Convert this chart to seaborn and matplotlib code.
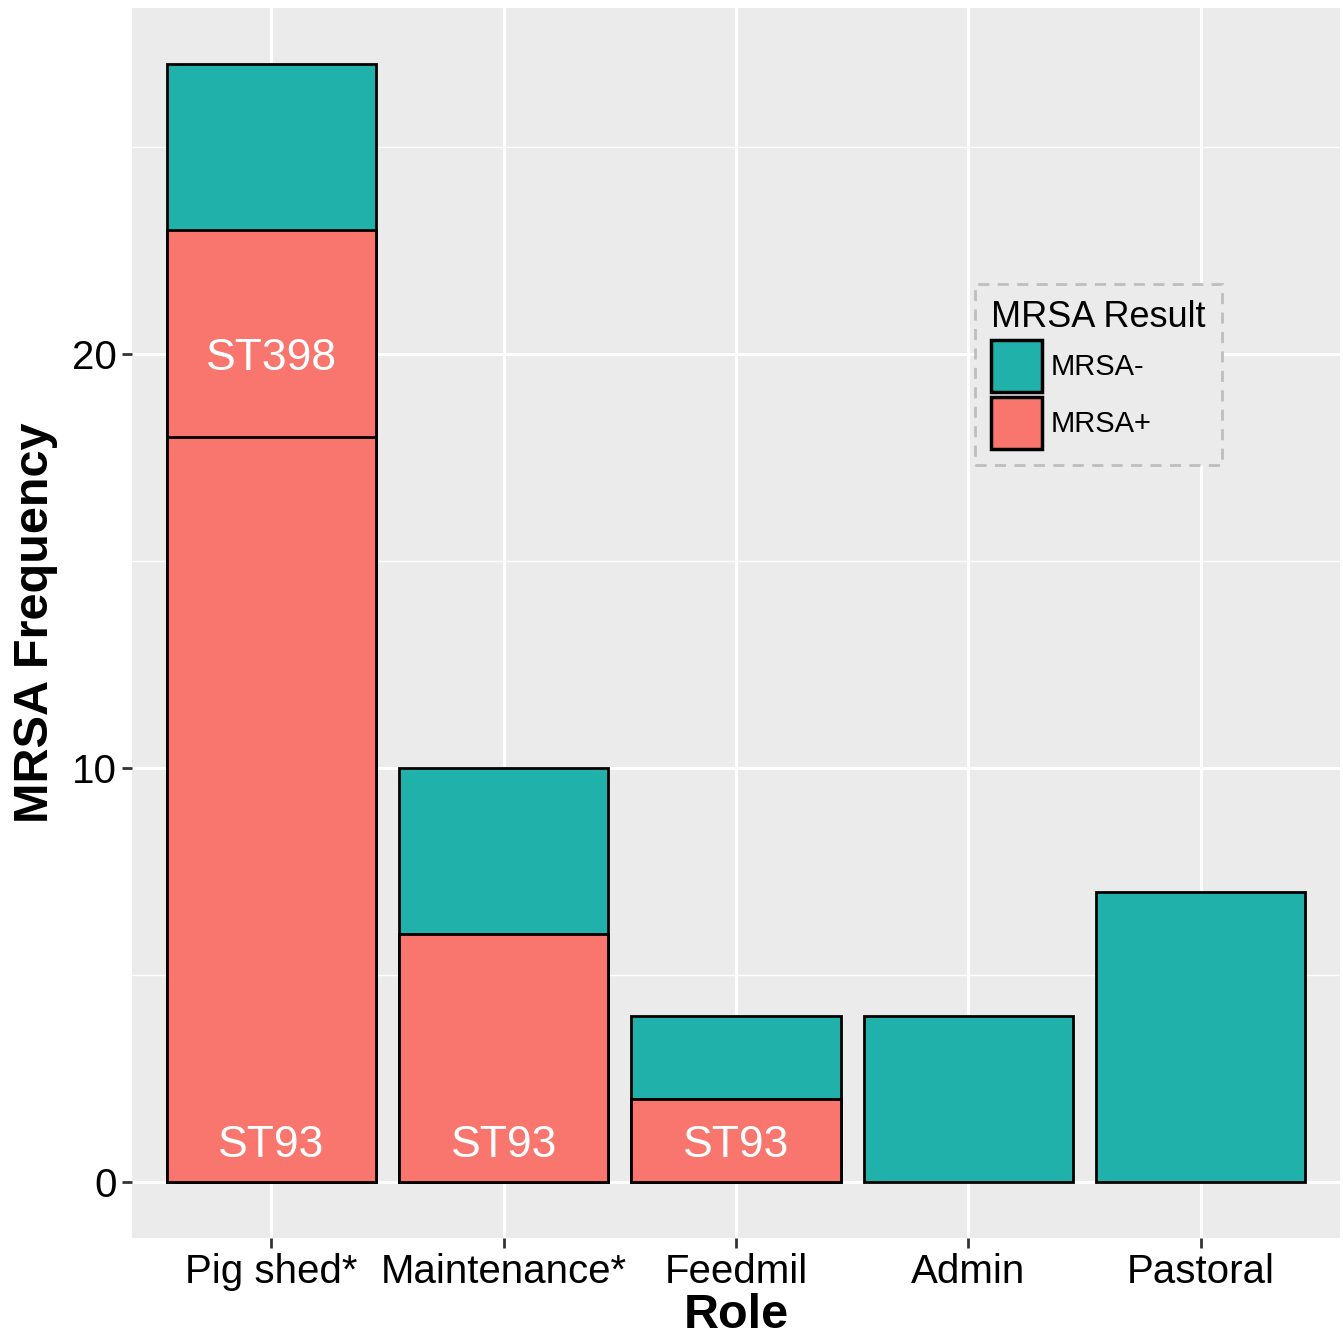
import pandas as pd
import numpy as np
import matplotlib.pyplot as plt
import seaborn as sns
from matplotlib.patches import Patch
from matplotlib.ticker import MultipleLocator

# data
roles = ["Pig shed*", "Maintenance*", "Feedmil", "Admin", "Pastoral"]
mrsa_pos = [23, 6, 2, 0, 0]      # MRSA+ total
st93 = [18, 6, 2, 0, 0]          # lower MRSA+ segment
mrsa_neg = [4, 4, 2, 4, 7]       # MRSA-
label_roles = ["Pig shed*", "Pig shed*", "Maintenance*", "Feedmil"]
label_y = [20, 1, 1, 1]
label_text = ["ST398", "ST93", "ST93", "ST93"]

df = pd.DataFrame({"Role": roles, "pos": mrsa_pos, "st93": st93, "neg": mrsa_neg})
df["total"] = df["pos"] + df["neg"]

teal = "#20B2AA"
salmon = "#F8766D"

sns.set_theme(style="darkgrid", rc={"axes.facecolor": "#EBEBEB"})
plt.rcParams['font.family'] = ['Liberation Sans', 'DejaVu Sans']
plt.rcParams['text.color'] = 'black'
plt.rcParams['axes.labelcolor'] = 'black'

fig = plt.figure(figsize=(13.43, 13.37), dpi=100)
ax = fig.add_axes([0.0983, 0.074, 0.8995, 0.920])

sns.barplot(x="Role", y="total", data=df, color=teal, width=0.9,
            edgecolor="black", linewidth=2, saturation=1, ax=ax, zorder=3)
sns.barplot(x="Role", y="pos", data=df, color=salmon, width=0.9,
            edgecolor="black", linewidth=2, saturation=1, ax=ax, zorder=3)
sns.barplot(x="Role", y="st93", data=df, color=salmon, width=0.9,
            edgecolor="black", linewidth=2, saturation=1, ax=ax, zorder=3)
# hide edges of zero-height bars
for p in ax.patches:
    if p.get_height() == 0:
        p.set_visible(False)

for r, y, t in zip(label_roles, label_y, label_text):
    ax.text(roles.index(r), y, t, color="white", fontsize=32,
            ha="center", va="center_baseline", zorder=4)

ax.set_xlim(-0.6, 4.6)
ax.set_ylim(-1.35, 28.35)
ax.yaxis.set_major_locator(MultipleLocator(10))
ax.yaxis.set_minor_locator(MultipleLocator(5))
ax.grid(which="major", color="white", linewidth=2.2)
ax.grid(which="minor", axis="y", color="white", linewidth=1.0)
ax.set_axisbelow(True)
for s in ax.spines.values():
    s.set_visible(False)

ax.tick_params(axis="both", which="major", length=7, width=2, color="#333333",
               labelsize=29, labelcolor="black", pad=4, bottom=True, left=True)
ax.tick_params(axis="both", which="minor", length=0)
ax.set_xlabel("Role", fontsize=35, fontweight="bold", labelpad=1)
ax.set_ylabel("MRSA Frequency", fontsize=35, fontweight="bold", labelpad=10)

handles = [Patch(facecolor=teal, edgecolor="black", linewidth=2.5, label="MRSA-"),
           Patch(facecolor=salmon, edgecolor="black", linewidth=2.5, label="MRSA+")]
leg = ax.legend(handles=handles, title="MRSA Result", loc="upper left",
                bbox_to_anchor=(0.698, 0.7756), borderaxespad=0,
                fontsize=21, title_fontsize=26,
                handlelength=1.75, handleheight=2.35, handletextpad=0.3,
                labelspacing=0.18, borderpad=0.55, frameon=True, fancybox=False,
                alignment="left")
fr = leg.get_frame()
fr.set_facecolor("#EBEBEB")
fr.set_edgecolor("#BEBEBE")
fr.set_linestyle((0, (4, 3)))
fr.set_linewidth(2)
fr.set_alpha(1)

plt.savefig("out.png", dpi=100)
